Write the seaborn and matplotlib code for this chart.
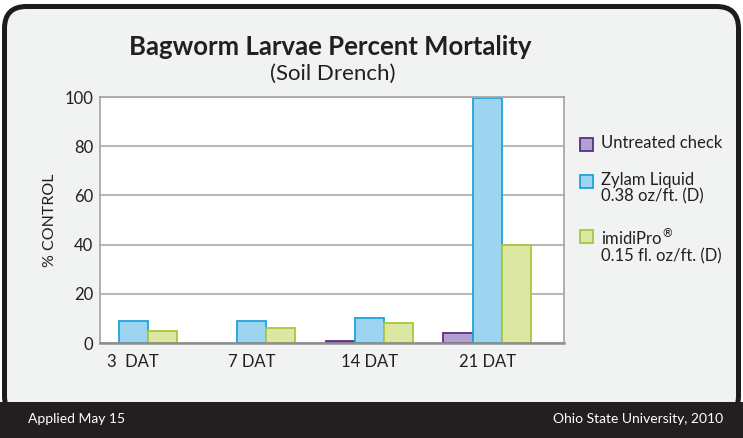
import matplotlib
matplotlib.use("Agg")
import matplotlib.pyplot as plt
from matplotlib.patches import FancyBboxPatch, Rectangle
from matplotlib.transforms import IdentityTransform
import seaborn as sns
import pandas as pd

# data
days = ["3  DAT", "7 DAT", "14 DAT", "21 DAT"]
treatments = ["Untreated check", "Zylam Liquid", "imidiPro"]
untreated = [0, 0, 1, 4]
zylam = [9, 9, 10, 99.5]
imidipro = [5, 6, 8, 40]
legend_labels = ["Untreated check", "Zylam Liquid\n0.38 oz/ft. (D)", "imidiPro$^{®}$\n0.15 fl. oz/ft. (D)"]

fills = ["#b39fd0", "#9dd5f1", "#dbe7a3"]
edges = ["#5c2e86", "#1fa2dc", "#a6c73c"]
ink = "#231f20"

df = pd.DataFrame({
    "day": days * 3,
    "treatment": [t for t in treatments for _ in days],
    "pct": untreated + zylam + imidipro,
})

sns.set_style("white")
plt.rcParams["font.family"] = ["Lato", "DejaVu Sans"]

W, H = 743, 438
fig = plt.figure(figsize=(W / 100, H / 100), dpi=100, facecolor="white")

# rounded frame + footer band (pixel coordinates)
frame = FancyBboxPatch((4.5, 20), W - 9, H - 4.5 - 20 - 2,
                       boxstyle="round,pad=0,rounding_size=22",
                       facecolor="#f1f2f2", edgecolor="#1f1b1c", linewidth=3.6,
                       transform=IdentityTransform(), zorder=-2)
fig.patches.append(frame)
band = Rectangle((0, 0), W, 36, facecolor=ink, edgecolor="none",
                 transform=IdentityTransform(), zorder=-1)
fig.patches.append(band)

ax = fig.add_axes([100 / W, 95 / H, 464 / W, 246 / H])
ax.set_zorder(1)
ax.set_facecolor("white")

sns.barplot(data=df, x="day", y="pct", hue="treatment", order=days,
            hue_order=treatments, palette=fills, width=0.74, gap=0,
            saturation=1, legend=False, ax=ax)

for cont, ec in zip(ax.containers, edges):
    for bar in cont:
        bar.set_edgecolor(ec)
        bar.set_linewidth(1.3 if bar.get_height() > 0 else 0)

ax.set_xlim(-0.283, 3.652)
ax.set_ylim(0, 100)
ax.set_yticks([0, 20, 40, 60, 80, 100])
ax.yaxis.grid(True, color="#a3a3a3", linewidth=1.1)
ax.set_axisbelow(True)
for side in ["left", "right", "top"]:
    ax.spines[side].set_color("#a8a8a8")
    ax.spines[side].set_linewidth(1.3)
ax.spines["bottom"].set_color("#8f8f8f")
ax.spines["bottom"].set_linewidth(1.8)
ax.tick_params(axis="both", length=0, labelsize=12, colors=ink)
ax.tick_params(axis="y", pad=5)
ax.tick_params(axis="x", pad=8)
ax.set_xlabel("")
ax.set_ylabel("% CONTROL", fontsize=11.5, color=ink, labelpad=5)

# titles
fig.text(330 / W, 1 - 47 / H, "Bagworm Larvae Percent Mortality", ha="center",
         va="center", fontsize=18.5, fontweight="bold", color=ink)
fig.text(333 / W, 1 - 74 / H, "(Soil Drench)", ha="center", va="center",
         fontsize=16, color=ink)

# legend
leg_y = [144, 181, 236]
for lab, y, fc, ec in zip(legend_labels, leg_y, fills, edges):
    fig.patches.append(Rectangle((580, H - y - 6.5), 13, 13, facecolor=fc,
                                 edgecolor=ec, linewidth=1.3,
                                 transform=IdentityTransform(), zorder=3))
    fig.text(601 / W, 1 - (y - 9) / H, lab, ha="left", va="top",
             fontsize=12, color=ink, linespacing=1.05)

# footer
fig.text(28 / W, 1 - 419 / H, "Applied May 15", ha="left", va="center",
         fontsize=10, color="white")
fig.text(723 / W, 1 - 419 / H, "Ohio State University, 2010", ha="right",
         va="center", fontsize=10, color="white")

fig.savefig("out.png", dpi=100, facecolor=fig.get_facecolor())
